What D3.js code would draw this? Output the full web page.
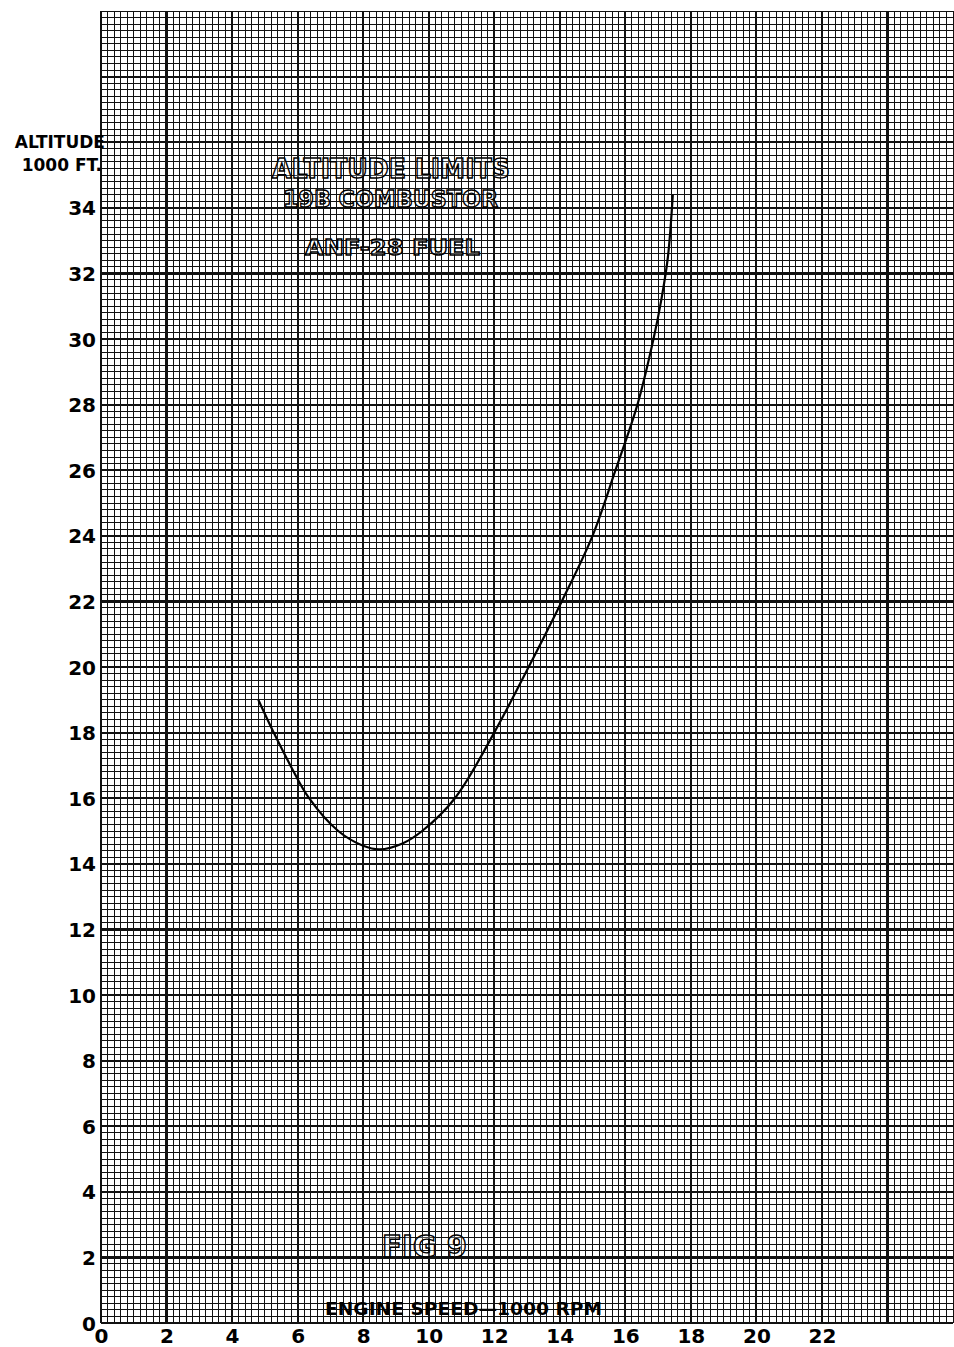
<!DOCTYPE html>
<html>
<head>
<meta charset="utf-8">
<script src="https://cdn.jsdelivr.net/npm/d3@7"></script>
<style>
  html, body { margin: 0; padding: 0; background: #fff; }
  svg { display: block; }
  text { font-family: "DejaVu Sans", "Liberation Sans", sans-serif; font-weight: bold; }
</style>
</head>
<body>
<div class="canvas"></div>
<script>
// engine speed (1000 rpm) vs altitude limit (1000 ft)
const speed = [4.8, 5.27, 5.78, 6.35, 7.24, 8.0, 8.5, 9.2, 9.8, 10.8, 12.0, 13.05, 14.06, 15.0, 15.7, 16.37, 16.86, 17.1, 17.3, 17.45];
const altitude = [19.0, 18.0, 17.0, 16.0, 15.0, 14.55, 14.44, 14.62, 15.0, 16.0, 18.0, 20.0, 22.0, 24.0, 26.0, 28.0, 30.0, 31.2, 32.5, 34.4];

const xTicks = [0, 2, 4, 6, 8, 10, 12, 14, 16, 18, 20, 22];
const yTicks = [0, 2, 4, 6, 8, 10, 12, 14, 16, 18, 20, 22, 24, 26, 28, 30, 32, 34];

const width = 954, height = 1347;
const marginLeft = 101, plotBottom = 1323, plotTop = 11;

const svg = d3.select(".canvas").append("svg")
  .attr("width", width)
  .attr("height", height);

let x = d3.scaleLinear().domain([0, 26]).range([marginLeft, width - 1]);
let y = d3.scaleLinear().domain([0, 40]).range([plotBottom, plotTop]);

// graph paper: fine lines every 0.2, heavy every 2
let grid = svg.append("g").attr("shape-rendering", "crispEdges");
let minorX = d3.range(0, 130.5, 1).map((i) => i * 0.2);
let minorY = d3.range(0, 200.5, 1).map((i) => i * 0.2);
let heavy = (i, last) => (i % 10 === 0 && i !== last ? 2.2 : 1);

grid.selectAll("line.vx")
  .data(minorX)
  .join("line")
  .attr("class", "vx")
  .attr("x1", (d) => x(d)).attr("x2", (d) => x(d))
  .attr("y1", y(40)).attr("y2", y(0))
  .attr("stroke", "#111")
  .attr("stroke-width", (d, i) => heavy(i, 130));

grid.selectAll("line.hy")
  .data(minorY)
  .join("line")
  .attr("class", "hy")
  .attr("y1", (d) => y(d)).attr("y2", (d) => y(d))
  .attr("x1", x(0)).attr("x2", x(26))
  .attr("stroke", "#111")
  .attr("stroke-width", (d, i) => heavy(i, 200));

// axes (labels only)
let xAxis = d3.axisBottom(x).tickValues(xTicks).tickSize(0).tickPadding(6);
let yAxis = d3.axisLeft(y).tickValues(yTicks).tickSize(0).tickPadding(5);

let gx = svg.append("g").attr("transform", `translate(0,${plotBottom})`).call(xAxis);
let gy = svg.append("g").attr("transform", `translate(${marginLeft},0)`).call(yAxis);
[gx, gy].forEach((g) => {
  g.select(".domain").remove();
  g.selectAll("text")
    .attr("fill", "#000")
    .style("font-size", "20px")
    .style("font-family", "DejaVu Sans")
    .style("font-weight", "bold");
});
gy.selectAll("text").attr("dy", "0.35em");

// curve
let line = d3.line()
  .x((d, i) => x(speed[i]))
  .y((d, i) => y(altitude[i]))
  .curve(d3.curveCatmullRom);

svg.append("path")
  .attr("d", line(speed))
  .attr("fill", "none")
  .attr("stroke", "#000")
  .attr("stroke-width", 2.2);

// labels
svg.append("text").attr("x", 105).attr("y", 148).attr("text-anchor", "end")
  .style("font-size", "17px").text("ALTITUDE");
svg.append("text").attr("x", 102).attr("y", 171).attr("text-anchor", "end")
  .style("font-size", "17px").text("1000 FT.");

let outline = (tx, ty, size, len, str) => {
  svg.append("text")
    .attr("x", tx).attr("y", ty)
    .attr("textLength", len)
    .attr("lengthAdjust", "spacingAndGlyphs")
    .style("font-size", size + "px")
    .style("font-weight", "bold")
    .attr("fill", "#fff")
    .attr("fill-opacity", 0.25)
    .attr("stroke", "#000")
    .attr("stroke-width", 1.4)
    .text(str);
};

outline(272, 178, 26, 238, "ALTITUDE LIMITS");
outline(283, 207, 23, 215, "19B COMBUSTOR");
outline(305, 255, 22, 175, "ANF-28  FUEL");
outline(382, 1257, 30, 85, "FIG 9");

svg.append("text")
  .attr("x", 325).attr("y", 1315)
  .attr("textLength", 277)
  .attr("lengthAdjust", "spacingAndGlyphs")
  .style("font-size", "17px")
  .attr("fill", "#000")
  .text("ENGINE SPEED—1000 RPM");
</script>
</body>
</html>
